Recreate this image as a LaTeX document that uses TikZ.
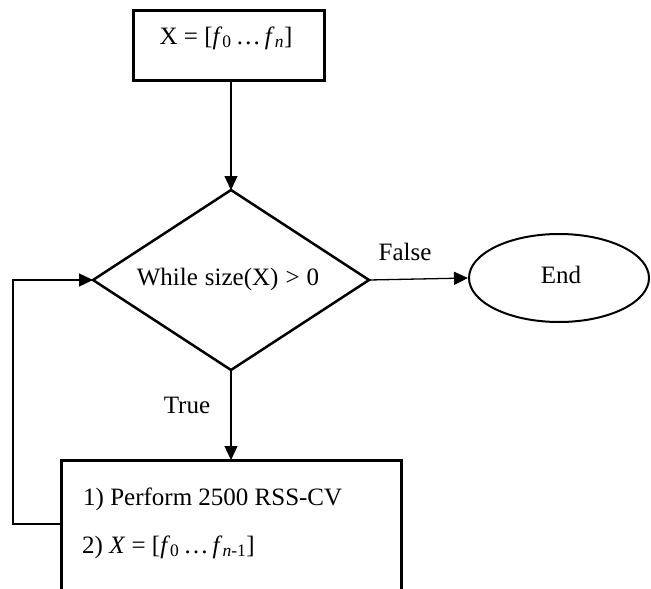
\documentclass[tikz,border=0pt]{standalone}
\usepackage{fontspec}
\setmainfont{Liberation Serif}
\usetikzlibrary{shapes.geometric,arrows.meta}
\begin{document}
\begin{tikzpicture}[x=1pt,y=-1pt,
  lbl/.style={font=\fontsize{25}{30}\selectfont, inner sep=0pt},
  boxstyle/.style={draw, line width=3pt},
  conn/.style={line width=1.3pt, -{Triangle[length=14pt,width=13pt]}},
  plain/.style={line width=1.3pt}]
\useasboundingbox (0,0) rectangle (651,589);
\clip (0,0) rectangle (651,589);
% top box
\draw[boxstyle] (133,10) rectangle (324,80);
\coordinate (topbot) at (231,80);
\node[lbl] (xlab) at (226,38) {X = [\textit{f}\textsubscript{0}\,\dots\,\textit{f}\textsubscript{\textit{n}}]};
% diamond
\coordinate (dtop) at (231,190);
\coordinate (dleft) at (93,280);
\coordinate (dright) at (369,280);
\coordinate (dbot) at (231,370);
\draw[line width=2.5pt, line join=miter] (dtop) -- (dright) -- (dbot) -- (dleft) -- cycle;
\node[lbl] (cond) at (228,279) {\spaceskip=7pt While size(X) > 0};
% end ellipse
\node[draw, ellipse, line width=2pt, minimum width=180pt, minimum height=88pt, inner sep=0pt] (end) at (559,278) {};
\node[lbl] (endlab) at (561,275) {End};
% bottom box
\draw[boxstyle] (61,460) rectangle (401,595);
\coordinate (bbtop) at (231,460);
\coordinate (bbleft) at (61,524);
\node[lbl, anchor=west] (l1) at (83,499) {1) Perform 2500 RSS-CV};
\node[lbl, anchor=west] (l2) at (82,547) {2) \textit{X} = [\textit{f}\textsubscript{0}\,\dots\,\textit{f}\textsubscript{\textit{n}-1}]};
% connectors
\draw[conn] (topbot) -- (dtop);
\draw[conn] (dbot) -- (bbtop);
\draw[conn] (dright) -- (end.west);
\coordinate (lc1) at (13,524);
\coordinate (lc2) at (13,280);
\draw[conn] (bbleft) -- (lc1) -- (lc2) -- (dleft);
% labels
\node[lbl] (false) at (405,252) {False};
\node[lbl] (true) at (187,405) {True};
\end{tikzpicture}
\end{document}
